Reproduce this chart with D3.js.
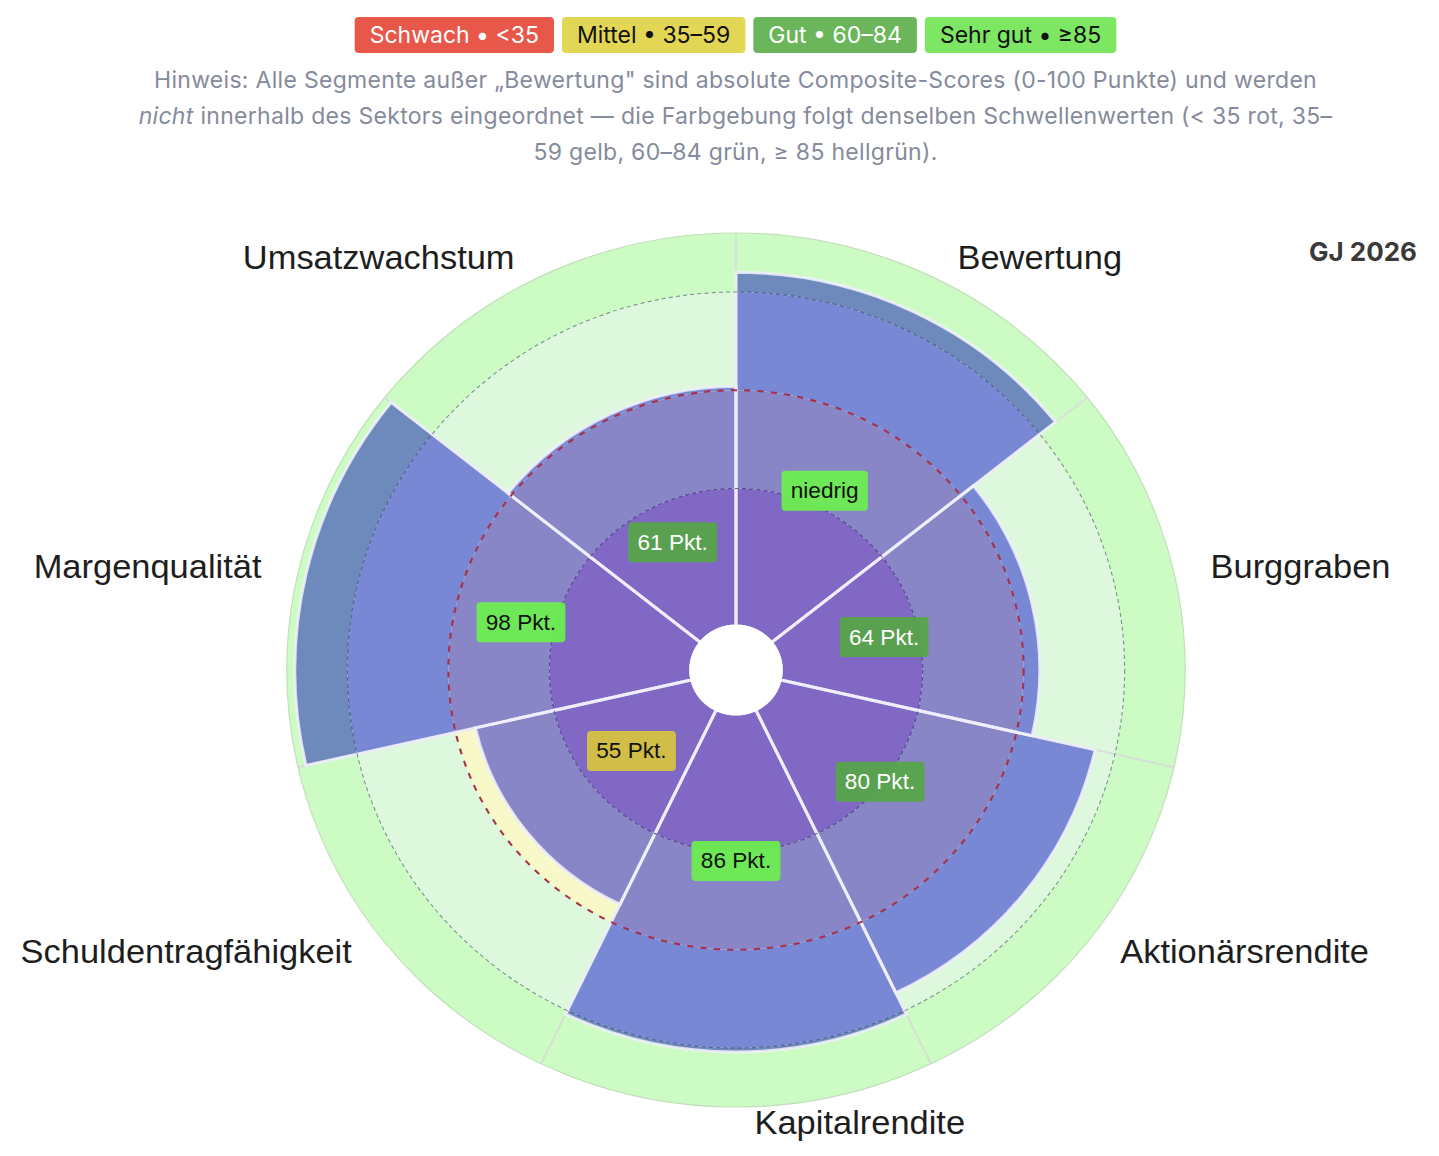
<!DOCTYPE html>
<html lang="de">
<head>
<meta charset="utf-8">
<title>Composite-Scores GJ 2026</title>
<script src="https://cdn.jsdelivr.net/npm/d3@7"></script>
<style>
  html, body { margin: 0; background: #fff; }
  svg { display: block; }
</style>
</head>
<body>
<svg id="chart" width="1439" height="1156"></svg>
<script>
// Sectors, clockwise from 12 o'clock
const categories = ["Bewertung", "Burggraben", "Aktionärsrendite", "Kapitalrendite", "Schuldentragfähigkeit", "Margenqualität", "Umsatzwachstum"];
const scores = [90, 64, 80, 86, 55, 98, 61];
const scoreLabels = ["niedrig", "64 Pkt.", "80 Pkt.", "86 Pkt.", "55 Pkt.", "98 Pkt.", "61 Pkt."];

// Rating bands
const thresholds = [35, 60, 85];
const ratingNames = ["Schwach", "Mittel", "Gut", "Sehr gut"];
const ratingRanges = ["<35", "35–59", "60–84", "≥85"];

const hintLines = [
  [{ t: "Hinweis: Alle Segmente außer „Bewertung\" sind absolute Composite-Scores (0-100 Punkte) und werden" }],
  [{ t: "nicht", i: true }, { t: " innerhalb des Sektors eingeordnet — die Farbgebung folgt denselben Schwellenwerten (< 35 rot, 35–" }],
  [{ t: "59 gelb, 60–84 grün, ≥ 85 hellgrün)." }],
];
const yearLabel = "GJ 2026";

// Colours
const legendFill = ["#e8584a", "#e3d655", "#6bb65b", "#7de663"];
const legendInk = ["#fff", "#111", "#fff", "#111"];
const badgeFill = ["#e8584a", "#d6c53f", "#56a647", "#6cf04e"];
const zoneOpen = ["#f6d9d2", "#f8f8c8", "#ddf8dc", "#ccfcc4"];   // band not reached by the score
const zoneCovered = ["#8068c4", "#8886c6", "#7888d4", "#6e8abc"]; // band under the score bar

const svg = d3.select("#chart");
const headerX = 735.5;
const uiFont = "Inter, 'Noto Sans', sans-serif";
const chartFont = "'Liberation Sans', Arial, sans-serif";

const rating = (v) => d3.bisectRight(thresholds, v);

// ---- legend badges
const legend = svg.append("g");
const badges = legend
  .selectAll("g")
  .data(ratingNames)
  .join("g");

badges
  .append("text")
  .attr("y", 35)
  .attr("dominant-baseline", "central")
  .attr("font-family", uiFont)
  .attr("font-size", 23)
  .attr("fill", (d, i) => legendInk[i])
  .text((d, i) => `${d} • ${ratingRanges[i]}`);

const pad = 15;
const gap = 8;
const widths = [];
badges.select("text").each(function () {
  widths.push(this.getComputedTextLength() + pad * 2);
});
const total = d3.sum(widths) + gap * (widths.length - 1);
let bx = headerX - total / 2;

badges.each(function (d, i) {
  const g = d3.select(this);
  g.insert("rect", "text")
    .attr("x", bx)
    .attr("y", 17)
    .attr("width", widths[i])
    .attr("height", 36)
    .attr("rx", 4)
    .attr("fill", legendFill[i]);
  g.select("text").attr("x", bx + pad);
  bx += widths[i] + gap;
});

// ---- hint text
const hint = svg
  .append("text")
  .attr("font-family", uiFont)
  .attr("font-size", 23)
  .attr("letter-spacing", 0.3)
  .attr("fill", "#858b9c")
  .attr("text-anchor", "middle");

hintLines.forEach((parts, li) => {
  const line = hint
    .append("tspan")
    .attr("x", headerX)
    .attr("y", 80 + li * 36)
    .attr("dominant-baseline", "central");
  parts.forEach((p) => {
    line.append("tspan").attr("font-style", p.i ? "italic" : null).text(p.t);
  });
});

svg
  .append("text")
  .attr("x", 1417)
  .attr("y", 251)
  .attr("text-anchor", "end")
  .attr("dominant-baseline", "central")
  .attr("font-family", uiFont)
  .attr("font-weight", 700)
  .attr("font-size", 26)
  .attr("fill", "#3a3a3a")
  .text(yearLabel);

// ---- polar chart (the reference is slightly wider than tall)
const cx = 736;
const cy = 670;
const polar = svg.append("g").attr("transform", `translate(${cx},${cy}) scale(1.028,1)`);

const r = d3.scaleLinear().domain([0, 100]).range([44, 437]);
const angle = d3.scaleBand().domain(categories).range([0, 2 * Math.PI]);
const arc = d3.arc();
const bounds = [0, ...thresholds, 100];

const segments = [];
categories.forEach((c, i) => {
  const a0 = angle(c);
  const a1 = a0 + angle.bandwidth();
  const v = scores[i];
  for (let z = 0; z < bounds.length - 1; z++) {
    const lo = bounds[z];
    const hi = bounds[z + 1];
    if (v > lo) segments.push({ a0, a1, lo, hi: Math.min(hi, v), fill: zoneCovered[z] });
    if (v < hi) segments.push({ a0, a1, lo: Math.max(lo, v), hi, fill: zoneOpen[z] });
  }
});

polar
  .selectAll("path.seg")
  .data(segments)
  .join("path")
  .attr("class", "seg")
  .attr("fill", (d) => d.fill)
  .attr("d", (d) => arc({ innerRadius: r(d.lo), outerRadius: r(d.hi), startAngle: d.a0, endAngle: d.a1 }));

// sector separators
polar
  .selectAll("line.sep")
  .data(categories)
  .join("line")
  .attr("class", "sep")
  .attr("x1", (d) => r(0) * Math.sin(angle(d)))
  .attr("y1", (d) => -r(0) * Math.cos(angle(d)))
  .attr("x2", (d) => r(100) * Math.sin(angle(d)))
  .attr("y2", (d) => -r(100) * Math.cos(angle(d)))
  .attr("stroke", "#d6dfd8")
  .attr("stroke-width", 2);

// score bar outlines
polar
  .selectAll("path.bar")
  .data(categories)
  .join("path")
  .attr("class", "bar")
  .attr("fill", "none")
  .attr("stroke", "rgba(240,238,250,0.85)")
  .attr("stroke-width", 3)
  .attr("d", (d, i) =>
    arc({ innerRadius: r(0), outerRadius: r(scores[i]), startAngle: angle(d), endAngle: angle(d) + angle.bandwidth() })
  );

// keep the centre hole clean white
polar.append("circle").attr("r", r(0) + 1.5).attr("fill", "#fff");

polar
  .append("circle")
  .attr("r", r(100))
  .attr("fill", "none")
  .attr("stroke", "#c3dfbb")
  .attr("stroke-width", 1.2);

// threshold rings
const ringStroke = ["rgba(35,30,100,0.65)", "#a63048", "rgba(40,45,80,0.55)"];
const ringDash = ["4,3", "6,7", "4,3"];
const ringWidth = [1, 2, 1];
polar
  .selectAll("circle.ring")
  .data(thresholds)
  .join("circle")
  .attr("class", "ring")
  .attr("r", (d) => r(d))
  .attr("fill", "none")
  .attr("stroke", (d, i) => ringStroke[i])
  .attr("stroke-dasharray", (d, i) => ringDash[i])
  .attr("stroke-width", (d, i) => ringWidth[i]);

// value badges, halfway out along each bar
const mid = (c) => angle(c) + angle.bandwidth() / 2;
const tags = polar
  .selectAll("g.tag")
  .data(categories)
  .join("g")
  .attr("class", "tag")
  .attr("transform", (d, i) => {
    const rr = r(scores[i]) / 2;
    return `translate(${rr * Math.sin(mid(d))},${-rr * Math.cos(mid(d))})`;
  });

tags
  .append("text")
  .attr("text-anchor", "middle")
  .attr("dominant-baseline", "central")
  .attr("font-family", chartFont)
  .attr("font-size", 22)
  .attr("fill", (d, i) => (rating(scores[i]) === 2 ? "#fff" : "#111"))
  .text((d, i) => scoreLabels[i]);

tags.each(function (d, i) {
  const g = d3.select(this);
  const w = g.select("text").node().getComputedTextLength() + 18;
  g.insert("rect", "text")
    .attr("x", -w / 2)
    .attr("y", -20)
    .attr("width", w)
    .attr("height", 40)
    .attr("rx", 4)
    .attr("fill", badgeFill[rating(scores[i])])
    .attr("opacity", 0.93);
});

// category labels around the outside
const labelR = 455;
polar
  .selectAll("text.cat")
  .data(categories)
  .join("text")
  .attr("class", "cat")
  .attr("x", (d) => {
    const s = Math.sin(mid(d));
    return labelR * s + (s > -1e-9 ? 18 : -18);
  })
  .attr("y", (d) => -labelR * Math.cos(mid(d)) - 3)
  .attr("text-anchor", (d) => (Math.sin(mid(d)) > -1e-9 ? "start" : "end"))
  .attr("dominant-baseline", "central")
  .attr("font-family", chartFont)
  .attr("font-size", 33.5)
  .attr("fill", "#1e1e1e")
  .text((d) => d);
</script>
</body>
</html>
